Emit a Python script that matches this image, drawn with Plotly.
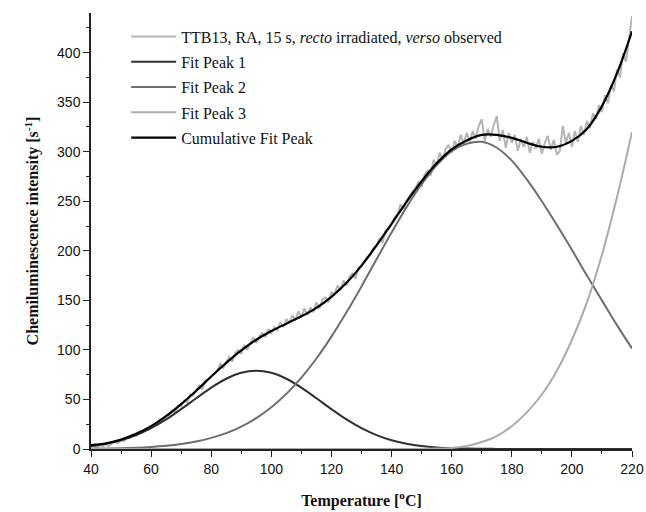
import plotly.graph_objects as go

# ---- data ----
temp_fit = [40, 45, 50, 55, 60, 65, 70, 75, 80, 85, 90, 95, 100, 105, 110, 115, 120, 125, 130,
            135, 140, 145, 150, 155, 160, 165, 170, 175, 180, 185, 190, 195, 200, 205, 210, 215, 220]

peak1 = [3.0, 5.3, 8.8, 14.0, 21.0, 29.8, 40.2, 51.2, 61.9, 70.9, 76.9, 79.0, 76.9, 70.9, 61.9,
         51.2, 40.2, 29.8, 21.0, 14.0, 8.8, 5.3, 3.0, 1.6, 0.8, 0.4, 0.2, 0.1, 0.05, 0.02, 0.01,
         0.0, 0.0, 0.0, 0.0, 0.0, 0.0]

peak2 = [0.3, 0.5, 0.8, 1.3, 2.1, 3.3, 5.1, 7.6, 11.2, 16.0, 22.6, 31.2, 42.1, 55.6, 72.0, 91.3,
         113.4, 137.9, 164.1, 191.4, 218.4, 244.1, 267.2, 286.4, 300.6, 308.0, 310.0, 304.0,
         291.0, 272.0, 250.0, 226.0, 201.0, 175.0, 150.0, 125.0, 101.5]

peak3 = [0.0, 0.0, 0.0, 0.0, 0.0, 0.0, 0.0, 0.0, 0.0, 0.0, 0.0, 0.0, 0.0, 0.0, 0.0, 0.0, 0.0,
         0.0, 0.0, 0.0, 0.05, 0.1, 0.2, 0.4, 1.0, 3.0, 7.0, 13.0, 23.0, 37.0, 55.0, 79.0, 110.0,
         148.0, 196.0, 254.0, 320.0]

cumulative = [4.0, 5.8, 9.6, 15.3, 23.1, 33.1, 45.3, 58.8, 73.1, 86.9, 99.5, 110.2, 119.0, 126.5,
              133.9, 142.5, 153.6, 167.7, 185.1, 205.4, 227.2, 249.4, 270.2, 288.3, 302.4, 311.4,
              317.0, 317.0, 314.0, 309.0, 305.0, 305.0, 311.0, 323.0, 346.0, 379.0, 421.5]

temp_obs = list(range(40, 221))
observed = [2, 3, 1, 4, 3, 5, 3, 6, 7, 6, 9, 8, 12, 11, 14, 13, 17, 16, 20, 19, 23,
            25, 24, 30, 29, 34, 35, 39, 37, 44, 43, 49, 47, 55, 54, 59, 64, 60, 69, 70, 73,
            77, 79, 86, 82, 88, 93, 88, 97, 100, 96, 105, 100, 107, 112, 107, 114, 117, 113, 121, 117,
            123, 120, 128, 123, 131, 127, 135, 130, 139, 133, 142, 135, 143, 138, 148, 142, 151, 153, 148, 158,
            156, 165, 160, 170, 165, 174, 177, 172, 183, 185, 190, 194, 196, 203, 205, 212, 208, 221, 222, 227,
            234, 237, 247, 242, 251, 256, 260, 263, 270, 265, 277, 281, 276, 292, 286, 299, 292, 303, 307, 299,
            311, 304, 317, 308, 319, 310, 321, 313, 326, 333, 311, 323, 315, 327, 336, 311, 322, 304, 319, 309,
            317, 301, 313, 305, 315, 299, 310, 303, 313, 298, 309, 316, 302, 312, 297, 301, 326, 309, 319, 305,
            321, 310, 326, 317, 331, 324, 339, 333, 347, 340, 357, 349, 367, 361, 383, 375, 399, 391, 416, 437]

x_ticks = [40, 60, 80, 100, 120, 140, 160, 180, 200, 220]
y_ticks = [0, 50, 100, 150, 200, 250, 300, 350, 400]

names = ["TTB13, RA, 15 s, <i>recto</i> irradiated, <i>verso</i> observed",
         "Fit Peak 1", "Fit Peak 2", "Fit Peak 3", "Cumulative Fit Peak"]

fig = go.Figure()
fig.add_trace(go.Scatter(x=temp_obs, y=observed, mode="lines", name=names[0], legendgroup="g0",
                         line=dict(color="#b4b4b4", width=2)))
fig.add_trace(go.Scatter(x=temp_fit, y=peak1, mode="lines", name=names[1], line_shape="spline",
                         legendgroup="g1", line=dict(color="#303030", width=2)))
fig.add_trace(go.Scatter(x=temp_fit, y=peak2, mode="lines", name=names[2], line_shape="spline",
                         legendgroup="g2", line=dict(color="#6e6e6e", width=2)))
fig.add_trace(go.Scatter(x=temp_fit, y=peak3, mode="lines", name=names[3], line_shape="spline",
                         legendgroup="g3", line=dict(color="#ababab", width=2)))
fig.add_trace(go.Scatter(x=temp_fit, y=cumulative, mode="lines", name=names[4], line_shape="spline",
                         legendgroup="g4", line=dict(color="#000000", width=2.2)))

tick_font = dict(family="Liberation Sans, Arial, sans-serif", size=14, color="#111")
title_font = dict(family="Liberation Serif, Times New Roman, serif", size=16, color="#111")

fig.update_layout(
    width=646, height=512,
    margin=dict(l=91, r=14, t=13, b=63),
    paper_bgcolor="white", plot_bgcolor="white",
    showlegend=True,
    legend=dict(x=0.065, y=0.985, xanchor="left", yanchor="top",
                bgcolor="rgba(0,0,0,0)", itemwidth=45, tracegroupgap=1.5,
                font=dict(family="Liberation Serif, Times New Roman, serif", size=16, color="#111")),
    xaxis=dict(range=[40, 220], tickvals=x_ticks, ticks="outside", ticklen=6, tickwidth=1.3,
               tickcolor="#222", showline=True, linecolor="#222", linewidth=1.5, showgrid=False,
               zeroline=False, tickfont=tick_font, automargin=False,
               minor=dict(dtick=10, ticks="outside", ticklen=3, tickwidth=1.3, tickcolor="#222"),
               title=dict(text="<b>Temperature [<sup>o</sup>C]</b>", font=title_font, standoff=19)),
    yaxis=dict(range=[0, 440], tickvals=y_ticks, ticks="outside", ticklen=6, tickwidth=1.3,
               tickcolor="#222", showline=True, linecolor="#222", linewidth=1.5, showgrid=False,
               zeroline=False, tickfont=tick_font, automargin=False,
               minor=dict(dtick=25, ticks="outside", ticklen=3, tickwidth=1.3, tickcolor="#222"),
               title=dict(text="<b>Chemiluminescence intensity [s<sup>-1</sup>]</b>", font=title_font,
                          standoff=14)),
)

fig.write_html("out.html")
